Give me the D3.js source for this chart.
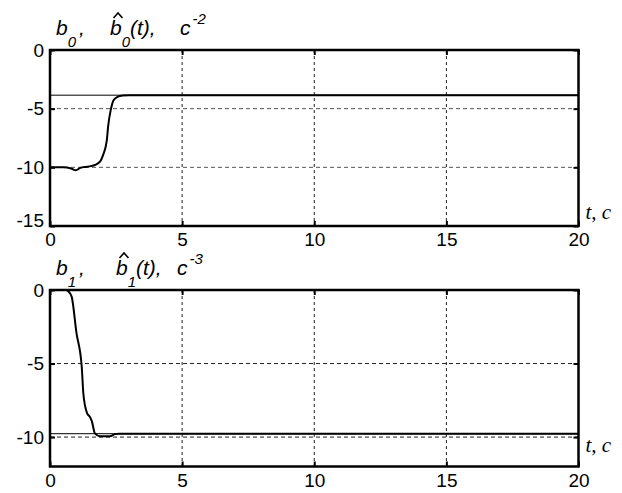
<!DOCTYPE html>
<html>
<head>
<meta charset="utf-8">
<script src="https://cdn.jsdelivr.net/npm/d3@7"></script>
<style>
  body { margin: 0; background: #fff; }
  svg { display: block; }
  .axis text { font-family: "Liberation Sans", Arial, sans-serif; font-size: 19px; fill: #000; }
  .axis line { stroke: #000; stroke-width: 2; }
  .axis path { display: none; }
  .ttl { font-family: "Liberation Sans", Arial, sans-serif; font-style: italic; fill: #000; }
  .tc { font-family: "Liberation Serif", "Times New Roman", serif; font-style: italic; font-size: 21px; fill: #000; }
</style>
</head>
<body>
<div id="chart"></div>
<script>
/***** data *****/
// upper panel: b0 estimate vs time
var b0Time  = [0, 0.5, 0.8, 0.98, 1.15, 1.4, 1.7, 1.9, 2.0, 2.15, 2.2, 2.3, 2.4, 2.55, 2.75, 3, 20];
var b0Hat   = [-10, -10, -10.1, -10.25, -10.05, -9.95, -9.8, -9.5, -9.0, -7.7, -6.5, -5.1, -4.3, -4.0, -3.87, -3.85, -3.85];
var b0True  = -3.85;
// lower panel: b1 estimate vs time
var b1Time  = [0, 0.6, 0.7, 0.82, 1.0, 1.2, 1.26, 1.33, 1.41, 1.5, 1.58, 1.7, 1.89, 2.27, 2.46, 2.6, 20];
var b1Hat   = [0, 0, -0.1, -0.45, -2.9, -5.2, -7.0, -7.9, -8.4, -8.6, -8.9, -9.75, -9.95, -9.95, -9.8, -9.77, -9.77];
var b1True  = -9.77;

var xTicks    = [0, 5, 10, 15, 20];
var y0Ticks   = [0, -5, -10, -15];
var y1Ticks   = [0, -5, -10];

//chart parameters
var width = 622, height = 493;
var left = 50, right = 578.5;

var svg = d3.select("#chart").append("svg")
  .attr("width", width)
  .attr("height", height);

var x = d3.scaleLinear().domain([0, 20]).range([left, right]);

// plain hyphen minus, like the original
var fmt = function(d){ return String(d); };

function panel(cfg) {
  var y = d3.scaleLinear().domain(cfg.yDomain).range([cfg.bottom, cfg.top]);
  var g = svg.append("g");

  //grid
  g.selectAll(".vgrid").data(xTicks.slice(1, -1)).enter().append("line")
    .attr("x1", function(d){ return x(d); }).attr("x2", function(d){ return x(d); })
    .attr("y1", cfg.top).attr("y2", cfg.bottom)
    .attr("stroke", "#222").attr("stroke-width", 1).attr("stroke-dasharray", "3,3");
  g.selectAll(".hgrid").data(cfg.yTicks.filter(function(d){ return d != cfg.yDomain[0] && d != cfg.yDomain[1]; })).enter().append("line")
    .attr("x1", left).attr("x2", right)
    .attr("y1", function(d){ return y(d); }).attr("y2", function(d){ return y(d); })
    .attr("stroke", cfg.hGridColor).attr("stroke-width", 1).attr("stroke-dasharray", "4,3");

  //true value (thin) and estimate (thick)
  g.append("line")
    .attr("x1", x(0)).attr("x2", x(20))
    .attr("y1", y(cfg.trueVal)).attr("y2", y(cfg.trueVal))
    .attr("stroke", "#000").attr("stroke-width", 1);

  var line = d3.line()
    .x(function(d){ return x(d[0]); })
    .y(function(d){ return y(d[1]); })
    .curve(d3.curveMonotoneX);
  g.append("path")
    .datum(d3.zip(cfg.t, cfg.v))
    .attr("d", line)
    .attr("fill", "none").attr("stroke", "#000").attr("stroke-width", 2);

  //axes with inside ticks
  g.append("g").attr("class", "axis")
    .attr("transform", "translate(0," + cfg.bottom + ")")
    .call(d3.axisBottom(x).tickValues(xTicks).tickSize(-5).tickPadding(7).tickFormat(fmt));
  g.append("g").attr("class", "axis")
    .attr("transform", "translate(0," + cfg.top + ")")
    .call(d3.axisTop(x).tickValues(xTicks).tickSize(-5).tickFormat(""));
  var ya = g.append("g").attr("class", "axis")
    .attr("transform", "translate(" + left + ",0)")
    .call(d3.axisLeft(y).tickValues(cfg.yTicks).tickSize(-5).tickPadding(6).tickFormat(fmt));
  ya.selectAll("text").filter(function(d){ return d == -15; }).attr("dy", "0.05em");
  g.append("g").attr("class", "axis")
    .attr("transform", "translate(" + right + ",0)")
    .call(d3.axisRight(y).tickValues(cfg.yTicks).tickSize(-5).tickFormat(""));

  //box
  g.append("rect")
    .attr("x", left).attr("y", cfg.top)
    .attr("width", right - left).attr("height", cfg.bottom - cfg.top)
    .attr("fill", "none").attr("stroke", "#000").attr("stroke-width", 2.5);

  //t, c label
  g.append("text").attr("class", "tc")
    .attr("x", right + 7).attr("y", cfg.tcY)
    .text("t, c");

  //title, each part one text with tspans for sub/superscripts
  var b = cfg.titleY;
  var t1 = g.append("text").attr("class", "ttl")
    .attr("x", 56).attr("y", b).style("font-size", "21px");
  t1.append("tspan").text("b");
  t1.append("tspan").attr("dy", 12).style("font-size", "15px").text(cfg.sub);
  t1.append("tspan").attr("dx", 3).attr("dy", -12).text(",");

  var t2 = g.append("text").attr("class", "ttl")
    .attr("x", cfg.hatX).attr("y", b).style("font-size", "21px");
  t2.append("tspan").text("b");
  t2.append("tspan").attr("dy", 12).style("font-size", "15px").text(cfg.sub);
  t2.append("tspan").attr("dy", -12).text(cfg.ptxt);

  // the hat over b, drawn as a small stroke
  var hx = cfg.hatX + 8, hy = b - 22;
  g.append("path")
    .attr("d", "M" + (hx - 4.5) + "," + (hy + 5) + "L" + hx + "," + hy + "L" + (hx + 4.5) + "," + (hy + 5))
    .attr("fill", "none").attr("stroke", "#000").attr("stroke-width", 1.6);

  var t3 = g.append("text").attr("class", "ttl")
    .attr("x", cfg.cX).attr("y", b).style("font-size", "21px");
  t3.append("tspan").text("c");
  t3.append("tspan").attr("dx", 2).attr("dy", -11).style("font-size", "15px").text(cfg.pow);
}

panel({
  top: 50, bottom: 226, yDomain: [-15, 0], yTicks: y0Ticks,
  t: b0Time, v: b0Hat, trueVal: b0True, hGridColor: "#555",
  tcY: 219, titleY: 35, sub: "0", hatX: 110, ptxt: "(t),", cX: 180, pow: "-2"
});

panel({
  top: 290, bottom: 466.5, yDomain: [-12, 0], yTicks: y1Ticks,
  t: b1Time, v: b1Hat, trueVal: b1True, hGridColor: "#222",
  tcY: 452, titleY: 275, sub: "1", hatX: 116, ptxt: "(t),", cX: 177, pow: "-3"
});
</script>
</body>
</html>
